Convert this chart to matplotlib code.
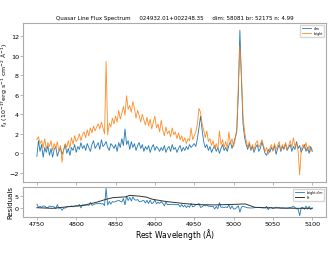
import numpy as np
import matplotlib
matplotlib.use("Agg")
import matplotlib.pyplot as plt

# rest wavelength grid (Angstrom), 2 A step
wave = np.arange(4750, 5101, 2)

# dim spectrum (1e-17 erg/s/cm2/A)
dim = [
    -0.3, 1.3, 0.2, 0.9, -0.4, 0.6, 0.1, 0.8, -0.2, 0.5,
    -0.4, 0.4, 0.7, -0.3, 0.2, 0.6, -0.1, 0.3, 0.9, 0.0,
    0.5, -0.2, 0.6, 0.3, 0.9, 0.1, 0.7, 0.4, 1.1, 0.5,
    0.8, 0.3, 1.0, 0.6, 0.2, 0.9, 1.3, 0.5, 0.8, 1.1,
    0.4, 1.4, 0.7, 0.9, 1.2, 0.6, 0.3, 1.0, 0.8, 0.5,
    0.9, 0.2, 1.1, 0.6, 1.5, 0.8, 2.5, 0.9, 1.3, 0.4,
    1.2, 0.6, 1.0, 0.3, 0.8, 1.1, 0.5, 0.9, 0.2, 0.7,
    0.4, 0.8, 0.1, 0.6, 0.9, 0.3, 0.7, 0.5, 0.2, 0.6,
    0.3, 0.8, 0.1, 0.5, 0.7, 0.2, 0.9, 0.4, 0.6, 0.1,
    0.5, 0.8, 0.2, 0.6, 0.3, 0.7, 0.4, 0.9, 0.6, 0.8,
    1.0, 0.7, 1.5, 2.6, 3.8, 2.4, 1.2, 0.6, 0.9, 0.3,
    0.7, 0.1, 0.5, 0.8, 0.2, 0.6, 0.0, 0.5, 0.9, 0.3,
    0.6, 0.2, 0.8, 1.2, 0.5, 1.0, 1.6, 2.2, 6.0, 12.6,
    7.5, 3.0, 1.6, 0.9, 0.4, 1.0, 0.3, 0.7, 0.1, 0.6,
    0.9, 0.2, 0.5, 1.2, 0.6, 0.0, -0.2, 0.4, 0.1, 0.6,
    0.3, 0.8, -0.1, 0.5, 0.9, 0.2, 0.7, 0.4, 1.0, 0.3,
    0.6, 0.9, 0.2, 0.7, 0.4, 1.2, 0.5, 0.8, 0.1, 0.5,
    0.9, 0.2, 0.6, 0.0, 0.7, 0.2,
]

# bright spectrum
bright = [
    1.4, 1.7, 1.0, 1.3, 0.6, 1.5, 0.4, 1.1, 0.7, 1.3,
    0.3, 1.0, 0.5, 1.2, 0.2, 0.8, -0.9, 0.4, 1.0, 0.6,
    1.3, 0.5, 1.6, 0.9, 1.8, 1.2, 1.5, 2.0, 1.3, 1.9,
    2.2, 1.6, 2.4, 1.8, 2.6, 2.1, 2.8, 2.3, 2.7, 3.0,
    2.5, 3.2, 2.6, 2.0, 9.4, 1.9, 3.1, 2.7, 3.6, 3.0,
    3.8, 3.2, 4.4, 3.5, 4.1, 4.8, 3.9, 5.9, 4.5, 4.9,
    4.2, 5.3, 4.6, 3.6, 4.4, 3.9, 3.2, 4.0, 3.4, 2.9,
    3.7, 2.8, 3.5, 2.5, 3.2, 3.8, 2.6, 3.0, 2.2, 3.4,
    2.4, 1.8, 2.7, 2.0, 2.3, 1.7, 2.6, 1.9, 2.2, 1.5,
    2.1, 1.4, 1.8, 1.2, 1.6, 1.0, 1.5, 1.3, 2.6, 1.4,
    1.8, 2.2, 3.0, 4.6, 4.2, 3.0, 2.4, 1.6, 2.3, 1.2,
    1.5, 0.8, 1.3, 0.5, 1.0, 0.4, 2.3, 0.9, 1.4, 0.6,
    1.2, 0.5, 2.2, 1.0, 1.5, 0.7, 1.4, 2.5, 7.0, 11.0,
    8.0, 3.8, 2.2, 1.3, 0.6, 1.2, 0.4, 0.9, 0.3, 1.0,
    1.3, 0.6, 0.9, 1.4, 0.8, 0.2, 0.6, -0.1, 0.5, 0.9,
    0.2, 1.0, 0.4, 0.8, 1.2, 0.3, 0.9, 0.5, 1.1, 0.4,
    0.8, 1.3, 0.6, 1.6, 0.7, 1.0, 0.2, -2.2, 0.4, 0.9,
    0.5, 1.1, 0.3, 0.8, 0.2, 0.4,
]

# smooth fit to the residuals
fit_wave = [4750, 4770, 4788, 4809, 4826, 4838, 4847, 4863, 4868, 4880,
            4889, 4897, 4914, 4939, 4956, 4977, 4998, 5015, 5027, 5040,
            5061, 5082, 5100]
fit_vals = [0.25, 0.0, 0.6, 1.2, 2.5, 3.7, 4.4, 4.7, 5.3, 5.0,
            4.6, 3.7, 2.8, 1.9, 1.5, 1.4, 1.6, 1.8, 0.4, 0.25,
            0.1, 0.0, 0.0]

resid = np.array(bright) - np.array(dim)

fig = plt.figure(figsize=(3.3, 2.55), dpi=100)
ax1 = fig.add_axes([0.070, 0.282, 0.918, 0.624])
ax2 = fig.add_axes([0.070, 0.145, 0.918, 0.118])

ax1.plot(wave, dim, color='C0', lw=0.6, label='dim')
ax1.plot(wave, bright, color='C1', lw=0.6, label='bright', alpha=0.9)
ax1.set_title('Quasar Line Flux Spectrum     024932.01+002248.35     '
              'dim: 58081 br: 52175 n: 4.99', fontsize=4.0, pad=3)
ax1.set_ylabel(r'f$_\lambda$ (10$^{-17}$erg s$^{-1}$ cm$^{-2}$ $\rm\AA^{-1}$)',
               fontsize=4.5)
ax1.yaxis.set_label_coords(-0.043, 0.616)
ax1.legend(loc='upper right', fontsize=2.3, handlelength=3)
ax1.set_xticklabels([])

ax2.plot(wave, resid, color='C0', lw=0.6, label='bright-dim')
ax2.plot(fit_wave, fit_vals, color='#333333', lw=0.7, label='fit')
ax2.set_ylabel('Residuals', fontsize=5, labelpad=1)
ax2.set_xlabel(r'Rest Wavelength ($\rm\AA$)', fontsize=5.5, labelpad=0)
ax2.legend(loc='upper right', fontsize=2.3, handlelength=3)

for ax in (ax1, ax2):
    ax.set_xticks([4750, 4800, 4850, 4900, 4950, 5000, 5050, 5100])
    ax.tick_params(labelsize=4.6, length=2, width=0.5, color='#999999', pad=1)
    for s in ax.spines.values():
        s.set_color('#aaaaaa')
        s.set_linewidth(0.8)
ax1.set_yticks([-2, 0, 2, 4, 6, 8, 10, 12])
ax2.set_yticks([0, 5])
ax2.set_xlim(ax1.get_xlim())

fig.savefig('out.png', dpi=100)
